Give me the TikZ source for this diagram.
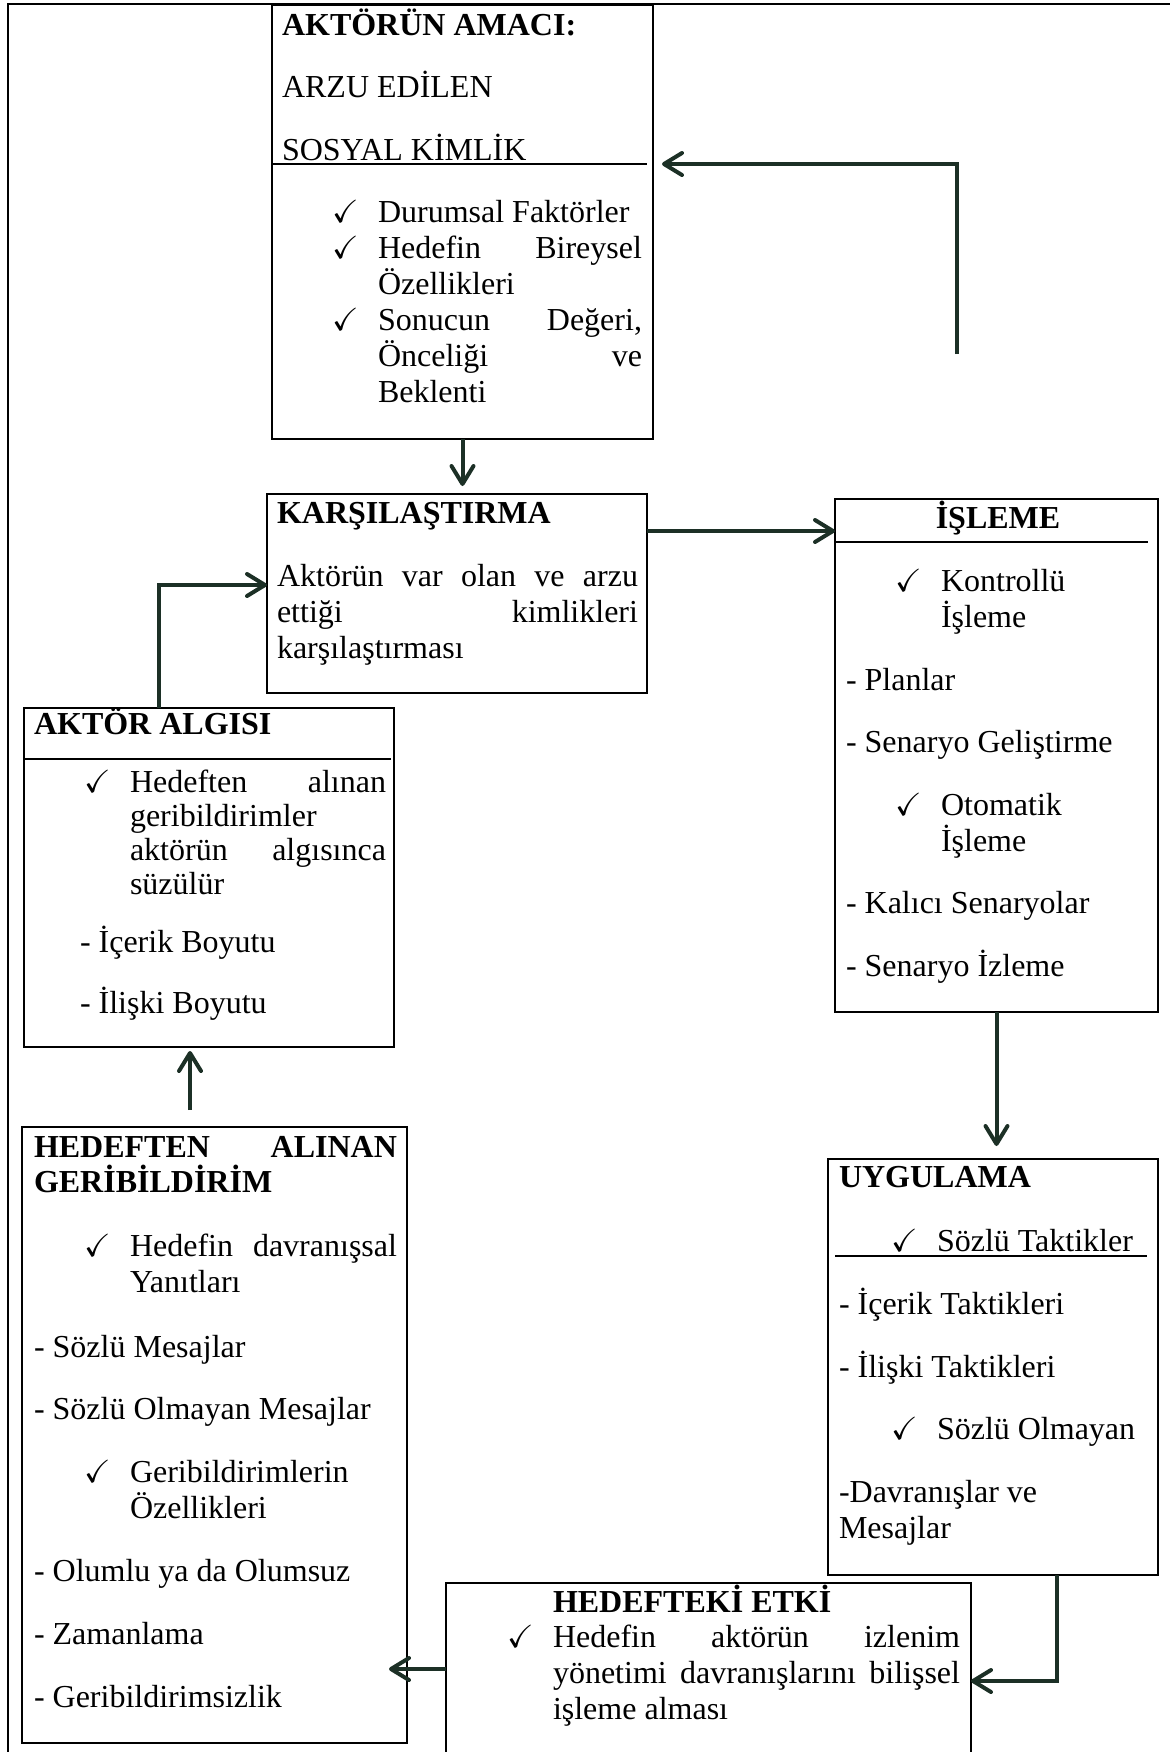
\documentclass[tikz,border=0pt]{standalone}
\usepackage{amssymb}
\usepackage{fontspec}
\setmainfont{Liberation Serif}
\usetikzlibrary{arrows.meta,calc}
\definecolor{okrengi}{RGB}{28,48,38}
\newcommand{\yazi}{\fontsize{16}{18}\selectfont}
\newcommand{\onay}{\makebox[23pt][l]{$\checkmark$}}
\newcommand{\bos}{\hspace*{23pt}}
\tikzset{Kutu/.style={draw,black,line width=1pt,inner sep=0pt,outer sep=0pt,rectangle,anchor=north west}}
\tikzset{Cizgi/.style={black,line width=1pt}}
\tikzset{Metin/.style={inner sep=0pt,outer sep=0pt,anchor=base west,align=flush left,font=\yazi}}
\tikzset{Baslik/.style={Metin,font=\yazi\bfseries}}
\tikzset{Ok/.style={draw,okrengi,line width=2pt,-{Straight Barb[length=9pt,width=11pt,round]}}}

\begin{document}
\begin{tikzpicture}[x=0.5pt,y=-0.5pt]

\useasboundingbox (0,0) rectangle (1169,1752);
\draw[Cizgi] (1180,4) -- (8,4) -- (8,1765);

% kutular
\node[Kutu,minimum width=190.5pt,minimum height=217pt] (Amac) at (272,5) {};
\node[Kutu,minimum width=190pt,minimum height=99.5pt] (Karsi) at (267,494) {};
\node[Kutu,minimum width=161.5pt,minimum height=256.5pt] (Isleme) at (835,499) {};
\node[Kutu,minimum width=185pt,minimum height=169.5pt] (Algi) at (24,708) {};
\node[Kutu,minimum width=192.5pt,minimum height=308pt] (Geri) at (22,1127) {};
\node[Kutu,minimum width=165pt,minimum height=208pt] (Uygu) at (828,1159) {};
\node[Kutu,minimum width=262.5pt,minimum height=95pt] (Etki) at (446,1583) {};

\draw[Cizgi] (272,164) -- (647,164);
\draw[Cizgi] (835,542) -- (1148,542);
\draw[Cizgi] (24,759) -- (391,759);
\draw[Cizgi] (835,1256) -- (1147,1256);

% metinler
\node[Baslik] (AmacB) at (282,35) {AKTÖRÜN AMACI:};
\node[Metin,text width=180pt] (AmacK) at (282,97) {ARZU EDİLEN\\[13.5pt] SOSYAL KİMLİK};
\node[Metin,text width=160pt] (AmacL) at (332,222) {\onay Durumsal Faktörler\\
  \onay\makebox[132pt][l]{Hedefin\hfill Bireysel}\\ \bos Özellikleri\\
  \onay\makebox[132pt][l]{Sonucun\hfill Değeri,}\\ \bos\makebox[132pt][l]{Önceliği\hfill ve}\\ \bos Beklenti};

\node[Baslik] (KarsiB) at (277,523) {KARŞILAŞTIRMA};
\node[Metin,text width=185pt] (KarsiK) at (277,586) {\makebox[180.5pt][l]{Aktörün\hfill var\hfill olan\hfill ve\hfill arzu}\\
  \makebox[180.5pt][l]{ettiği\hfill kimlikleri}\\ karşılaştırması};

\node[Baslik,anchor=base] (IslemeB) at (998,528) {İŞLEME};
\node[Metin,text width=155pt] (IslemeK) at (846,591) {\hspace*{24.5pt}\onay Kontrollü\\
  \hspace*{47.5pt}İşleme\\[13.5pt] - Planlar\\[13pt] - Senaryo Geliştirme\\[13.5pt]
  \hspace*{24.5pt}\onay Otomatik\\ \hspace*{47.5pt}İşleme\\[13pt] - Kalıcı Senaryolar\\[13.5pt] - Senaryo İzleme};

\node[Baslik] (AlgiB) at (34,734) {AKTÖR ALGISI};
\node[Metin,text width=155pt] (AlgiK) at (84,792) {\onay\makebox[128pt][l]{Hedeften\hfill alınan}\\[-1pt]
  \bos geribildirimler\\[-1pt] \bos\makebox[128pt][l]{aktörün\hfill algısınca}\\[-1pt] \bos süzülür\\[11pt]
  \hspace*{-2pt}- İçerik Boyutu\\[12.5pt] \hspace*{-2pt}- İlişki Boyutu};

\node[Metin,font=\yazi\bfseries,text width=185pt] (GeriB) at (34,1157) {\makebox[181.5pt][l]{HEDEFTEN\hfill ALINAN}\\[-0.5pt] GERİBİLDİRİM};
\node[Metin,text width=185pt] (GeriK) at (34,1256) {\hspace*{25pt}\onay\makebox[133.5pt][l]{Hedefin\hfill davranışsal}\\
  \hspace*{48pt}Yanıtları\\[14.5pt] - Sözlü Mesajlar\\[13pt] - Sözlü Olmayan Mesajlar\\[13.5pt]
  \hspace*{25pt}\onay Geribildirimlerin\\ \hspace*{48pt}Özellikleri\\[13.5pt] - Olumlu ya da Olumsuz\\[13.5pt]
  - Zamanlama\\[13.5pt] - Geribildirimsizlik};

\node[Baslik] (UyguB) at (839,1187) {UYGULAMA};
\node[Metin,text width=155pt] (UyguK) at (839,1251) {\hspace*{26pt}\onay Sözlü Taktikler\\[13.5pt]
  - İçerik Taktikleri\\[13.5pt] - İlişki Taktikleri\\[13pt] \hspace*{26pt}\onay Sözlü Olmayan\\[13.5pt]
  -Davranışlar ve\\ Mesajlar};

\node[Baslik] (EtkiB) at (553,1612) {HEDEFTEKİ ETKİ};
\node[Metin,text width=230pt] (EtkiK) at (507,1647) {\onay\makebox[203.5pt][l]{Hedefin\hfill aktörün\hfill izlenim}\\
  \bos\makebox[203.5pt][l]{yönetimi\hfill davranışlarını\hfill bilişsel}\\ \bos işleme alması};

% oklar
\coordinate (G0) at (957,354);
\draw[Ok,shorten >=4.5pt] (G0) |- ($(Amac.north east)+(0,159)$);
\draw[Ok,shorten >=4pt] (Amac.south) -- (Amac.south |- Karsi.north);
\coordinate (K1) at ($(Karsi.north east)+(0,37)$);
\draw[Ok] (K1) -- (K1 -| Isleme.west);
\coordinate (A1) at ($(Algi.north west)+(135,0)$);
\draw[Ok] (A1) |- ($(Karsi.north west)+(0,91)$);
\coordinate (G1) at ($(Geri.north west)+(168,0)$);
\draw[Ok,shorten <=8.5pt,shorten >=2pt] (G1) -- (G1 |- Algi.south);
\draw[Ok,shorten >=6.5pt] (Isleme.south) -- (Isleme.south |- Uygu.north);
\coordinate (U1) at ($(Uygu.south west)+(229,0)$);
\draw[Ok] (U1) |- ($(Etki.north east)+(0,98)$);
\coordinate (E1) at ($(Etki.north west)+(0,86)$);
\draw[Ok,shorten >=-9pt] (E1) -- (E1 -| Geri.east);

\end{tikzpicture}
\end{document}
